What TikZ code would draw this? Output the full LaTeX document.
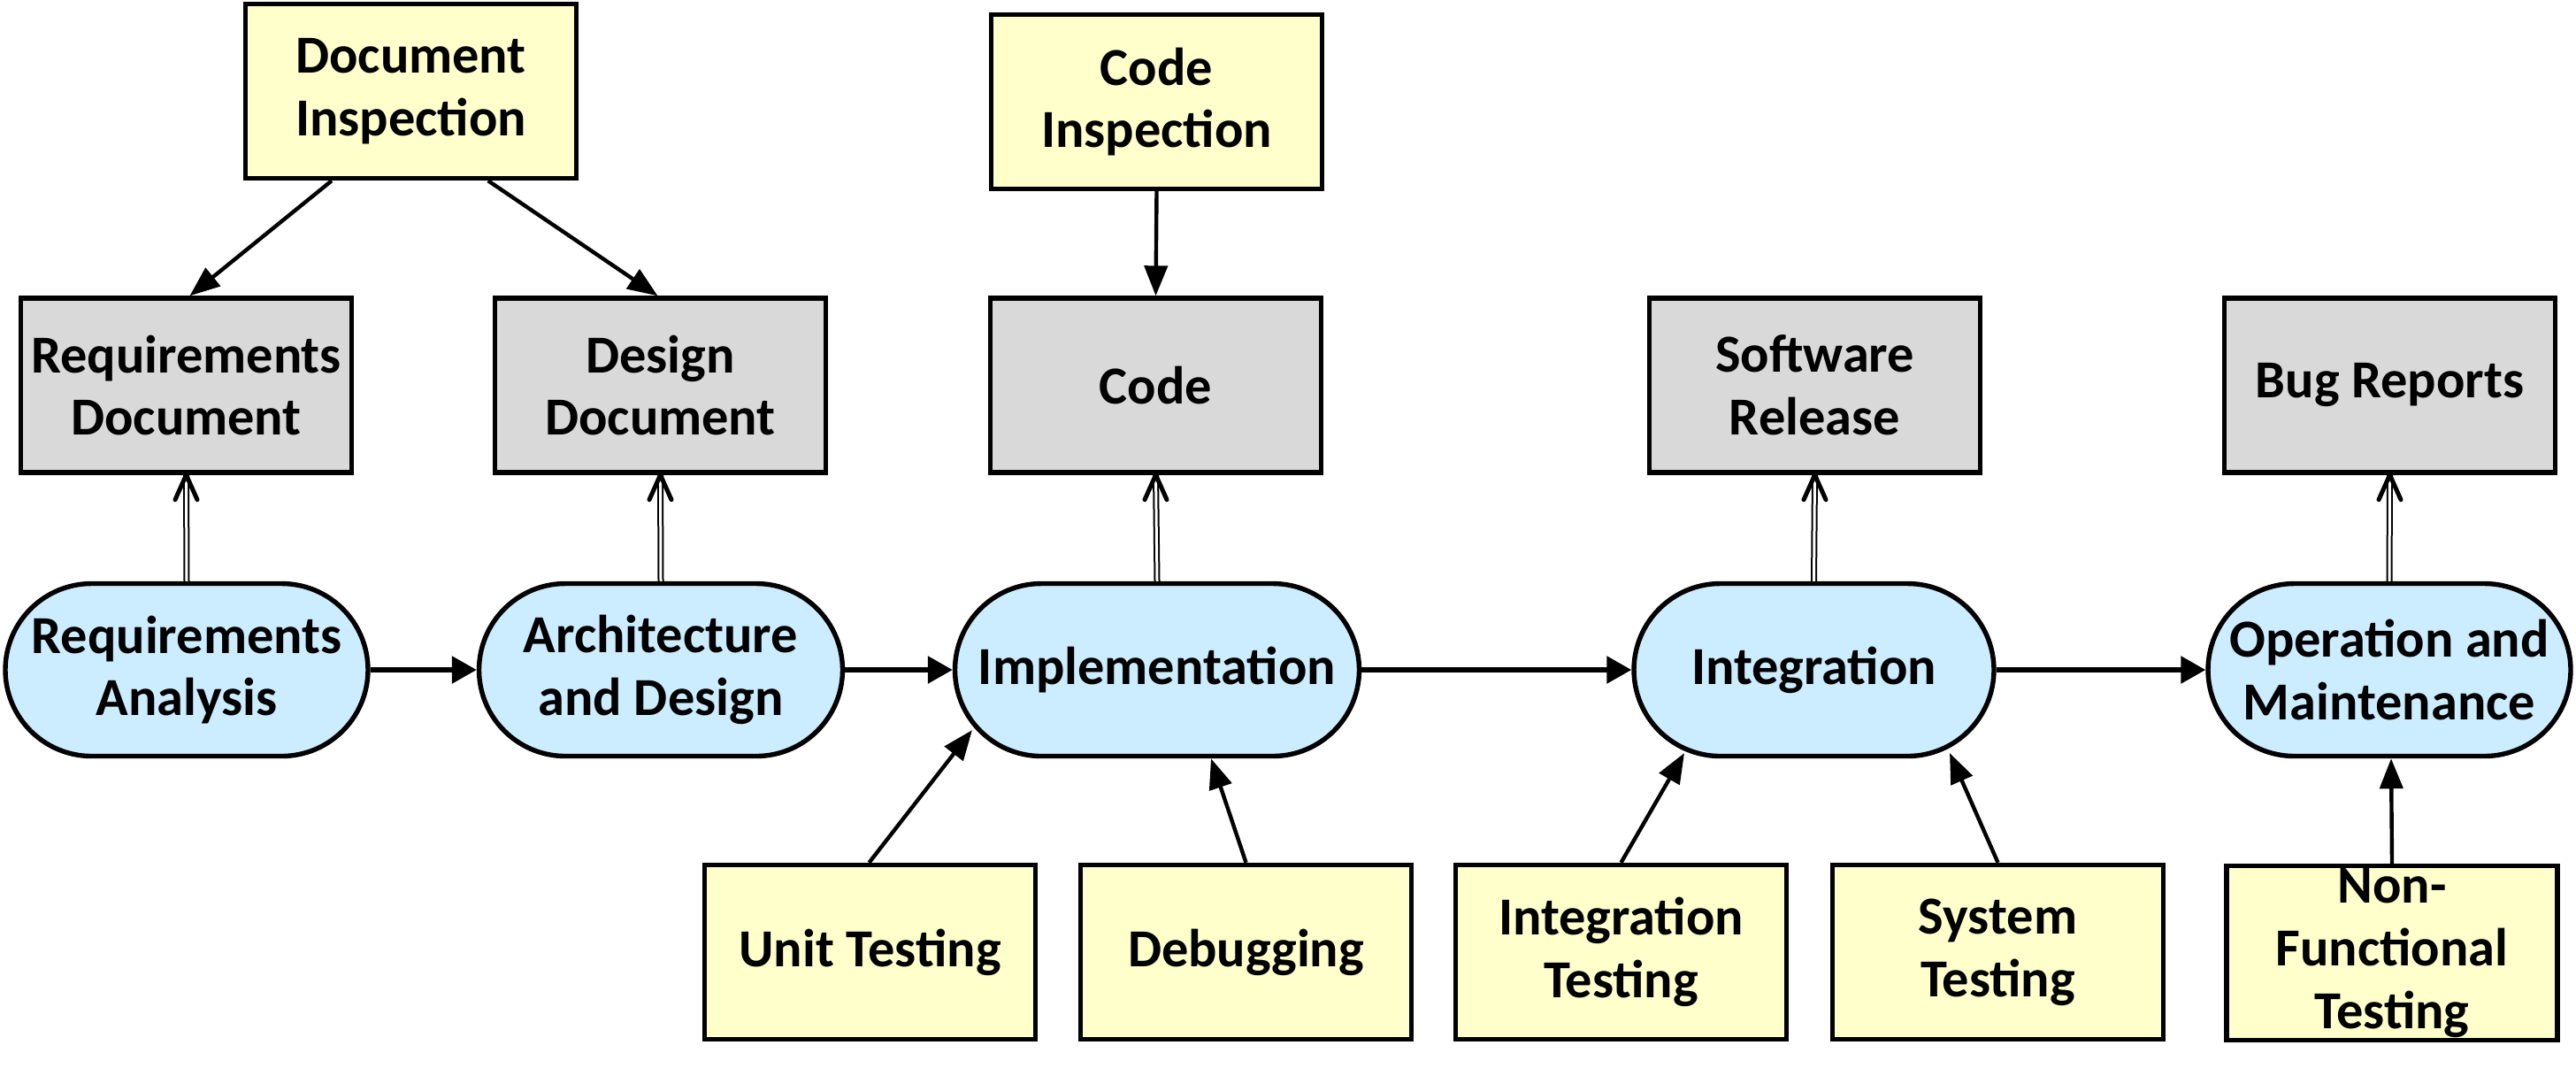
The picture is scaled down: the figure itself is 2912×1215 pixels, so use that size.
\documentclass[tikz,border=0pt]{standalone}
\usepackage{fontspec}
\setmainfont{Carlito}
\usetikzlibrary{arrows.meta,calc}
\definecolor{yelfill}{HTML}{FFFFCC}
\definecolor{grayfill}{HTML}{D9D9D9}
\definecolor{bluefill}{HTML}{CCECFF}
\begin{document}
\begin{tikzpicture}[x=0.25pt,y=-0.25pt,
  every node/.style={font=\bfseries\fontsize{15.1}{17.65}\selectfont, align=center, inner sep=0pt},
  boxbase/.style={draw=black, line width=1.35pt, minimum width=93.5pt, minimum height=49.25pt},
  yb/.style={boxbase, fill=yelfill},
  gb/.style={boxbase, fill=grayfill},
  stad/.style={draw=black, line width=1.35pt, fill=bluefill, minimum height=48.75pt, rounded corners=24.4pt},
  ar/.style={line width=1.1pt, -{Triangle[length=8.5pt,width=6.5pt]}},
  flow/.style={line width=1.4pt, -{Triangle[length=7pt,width=7.5pt]}},
  dbl/.style={double, double distance=0.75pt, line width=0.5pt},
  vhead/.style={line width=1.25pt, line cap=round, line join=round}
]
\useasboundingbox (0,0) rectangle (2912,1215);
% top inspection boxes
\node[yb] (di) at (464.5,103) {Document\\Inspection};
\node[yb] (ci) at (1307.5,115) {Code\\Inspection};
% artefacts
\node[gb] (rd) at (210.5,435.5) {Requirements\\Document};
\node[gb] (dd) at (746.5,435.5) {Design\\Document};
\node[gb] (cd) at (1306.5,435.5) {Code};
\node[gb] (sr) at (2051.5,435.5) {Software\\Release};
\node[gb] (br) at (2701.5,435.5) {Bug Reports};
% phases
\node[stad, minimum width=102.5pt] (ra) at (211,757) {Requirements\\Analysis};
\node[stad, minimum width=102.75pt] (ad) at (747,757) {Architecture\\and Design};
\node[stad, minimum width=114.25pt] (im) at (1308,757) {Implementation};
\node[stad, minimum width=101.75pt] (ig) at (2050.5,757) {Integration};
\node[stad, minimum width=102.5pt] (om) at (2701,757) {Operation and\\Maintenance};
% activities
\node[yb] (ut) at (983.5,1076) {Unit Testing};
\node[yb] (db) at (1408.5,1076) {Debugging};
\node[yb] (it) at (1832.5,1076) {Integration\\Testing};
\node[yb] (st) at (2258.5,1076) {System\\Testing};
\node[yb] (nf) at (2704,1077) {Non-\\Functional\\Testing};
% inspection arrows
\draw[ar] ($(di.south west)!0.264!(di.south east)$) -- ($(rd.north)+(4,0)$);
\draw[ar] ($(di.south west)!0.73!(di.south east)$) -- ($(dd.north)+(-3,0)$);
\draw[ar] (ci.south) -- (cd.north);
% double arrows phase -> artefact
\foreach \p/\q in {ra/rd, ad/dd, im/cd, ig/sr, om/br}{
  \draw[dbl] (\p.north) -- (\q.south);
  \draw[vhead] ($(\q.south)+(-12.5,28)$) -- (\q.south) -- ($(\q.south)+(12.5,28)$);
}
% flow
\draw[flow] (ra.east) -- (ad.west);
\draw[flow] (ad.east) -- (im.west);
\draw[flow] (im.east) -- (ig.west);
\draw[flow] (ig.east) -- (om.west);
% activity arrows
\draw[ar] ($(ut.north)+(-1,0)$) -- ($(im.center)+(-209,68)$);
\draw[ar] (db.north) -- ($(im.south)+(61,0)$);
\draw[ar] (it.north) -- ($(ig.center)+(-146.5,94)$);
\draw[ar] (st.north) -- ($(ig.center)+(153.5,94)$);
\draw[ar] (nf.north) -- ($(om.south)+(2,0)$);
\end{tikzpicture}
\end{document}
